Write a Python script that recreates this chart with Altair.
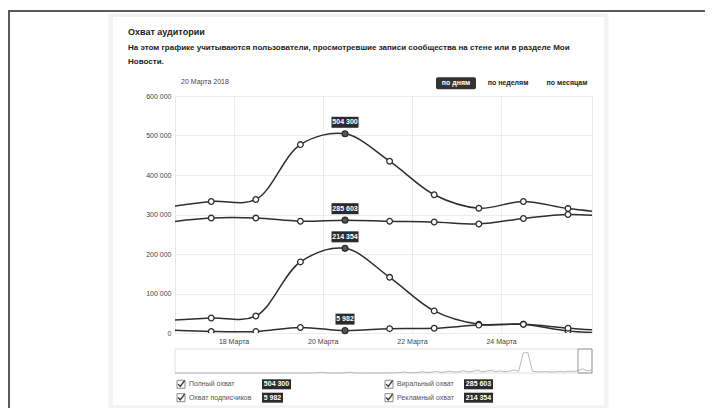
import altair as alt
import pandas as pd

# ---------------- data ----------------
dates = ["2018-03-16", "2018-03-17", "2018-03-18", "2018-03-19", "2018-03-20",
         "2018-03-21", "2018-03-22", "2018-03-23", "2018-03-24", "2018-03-25", "2018-03-26"]
total = [318000, 333000, 338000, 477000, 504300, 435000, 350000, 316000, 333000, 315000, 304000]
viral = [280000, 291000, 291000, 283000, 285603, 283000, 281000, 276000, 290000, 300000, 294000]
ads = [32000, 38000, 43000, 180000, 214354, 141000, 56000, 22000, 22000, 5000, 0]
subs = [8000, 4000, 4000, 14000, 5982, 11000, 12000, 20000, 22000, 12000, 5000]
series_names = ["Полный охват", "Виральный охват", "Рекламный охват", "Охват подписчиков"]
selected_date = "2018-03-20"
x_ticks = ["2018-03-18", "2018-03-20", "2018-03-22", "2018-03-24"]
y_ticks = [0, 100000, 200000, 300000, 400000, 500000, 600000]
x_range = ["2018-03-16T16:30:00Z", "2018-03-26T00:55:00Z"]
navigator = [0, 0, 0, 0, 0, 0, 0, 0, 0, 0,
             0, 0, 0, 0, 0, 0, 0, 0, 0, 0,
             0, 0, 0, 0, 0, 0, 0, 0, 0, 0,
             0, 1, 3, 1, 0, 0, 0, 1, 4, 1,
             0, 0, 0, 0, 0, 0, 1, 0, 1, 2,
             5, 2, 1, 3, 6, 2, 4, 8, 3, 5,
             9, 4, 6, 11, 5, 8, 13, 6, 9, 12,
             7, 10, 6, 9, 14, 8, 95, 98, 8, 6,
             5, 7, 4, 6, 8, 5, 9, 7, 12, 20,
             10, 14]
title_text = "Охват аудитории"
subtitle_lines = ["На этом графике учитываются пользователи, просмотревшие записи сообщества на стене или в разделе Мои",
                  "Новости."]
tooltip_date = "20 Марта 2018"
buttons = ["по дням", "по неделям", "по месяцам"]
legend_layout = [("Полный охват", 0, 0), ("Охват подписчиков", 0, 1),
                 ("Виральный охват", 1, 0), ("Рекламный охват", 1, 1)]

# ---------------- helpers ----------------
FONT = "Liberation Sans"
LINE = "#2e2e2e"
PX, PY = 175, 96          # plot origin on the page
W, H = 417, 237


def fmt(v):
    return f"{v:,}".replace(",", " ")


def ms(s):
    return int(pd.Timestamp(s).value // 10**6)


one = pd.DataFrame({"k": [0]})


def prect(x1, y1, x2, y2, **kw):
    return alt.Chart(one).mark_rect(**kw).encode(
        x=alt.value(x1 - PX), x2=alt.value(x2 - PX),
        y=alt.value(y1 - PY), y2=alt.value(y2 - PY))


def ptext(x, y, s, **kw):
    return alt.Chart(one).mark_text(text=s, baseline="middle", font=FONT, **kw).encode(
        x=alt.value(x - PX), y=alt.value(y - PY))


# ---------------- main series ----------------
rows = []
for name, vals in zip(series_names, [total, viral, ads, subs]):
    for d, v in zip(dates, vals):
        rows.append({"date": d + "T12:00:00Z", "value": v, "series": name,
                     "sel": d == selected_date, "lab": fmt(v), "n": len(fmt(v))})
df = pd.DataFrame(rows)

xscale = alt.Scale(type="utc", domain=[ms(x_range[0]), ms(x_range[1])])
yscale = alt.Scale(domain=[0, 600000], nice=False)

base = alt.Chart(df).encode(
    x=alt.X("date:T", scale=xscale, title=None,
            axis=alt.Axis(values=[ms(t + "T00:00:00Z") for t in x_ticks],
                          labelExpr="utcFormat(datum.value, '%-d') + ' Марта'",
                          labelFontSize=7, labelColor="#444", labelFont=FONT,
                          ticks=False, domain=False, labelPadding=4,
                          gridColor="#ececec", labelFlush=False)),
    y=alt.Y("value:Q", scale=yscale, title=None,
            axis=alt.Axis(values=y_ticks,
                          labelExpr="replace(format(datum.value, ','), ',', ' ')",
                          labelFontSize=7, labelColor="#444", labelFont=FONT,
                          ticks=False, domain=False, labelPadding=4,
                          gridColor="#ececec")),
    detail="series:N",
)

lines = base.mark_line(interpolate="catmull-rom", color=LINE, strokeWidth=1.5, clip=True)
pts = base.transform_filter("!datum.sel").mark_point(
    filled=True, fill="white", stroke=LINE, strokeWidth=1.3, size=32, opacity=1, clip=True)
hl = base.transform_filter("datum.sel").mark_point(
    filled=True, fill="#555555", stroke=LINE, strokeWidth=1.3, size=34, opacity=1)

label_layers = []
for n in sorted(df["n"].unique()):
    w = 4 * n - 1
    sub = base.transform_filter(f"datum.sel && datum.n == {n}")
    label_layers.append(sub.mark_rect(color="#2b2b2b", xOffset=-w / 2, x2Offset=w / 2,
                                      yOffset=-17, y2Offset=-6).encode(x2="date:T", y2="value:Q"))
label_text = base.transform_filter("datum.sel").mark_text(
    color="white", fontWeight="bold", fontSize=7, font=FONT, baseline="middle", dy=-11.5
).encode(text="lab:N")

main = alt.layer(lines, pts, hl, *label_layers, label_text)

# ---------------- navigator ----------------
nav_df = pd.DataFrame({"i": list(range(len(navigator))), "v": navigator})
nav = alt.Chart(nav_df).mark_line(color="#a8a8a8", strokeWidth=0.8).encode(
    x=alt.X("i:Q", scale=alt.Scale(domain=[0, len(navigator) - 1], range=[0, W]), axis=None),
    y=alt.Y("v:Q", scale=alt.Scale(domain=[0, 100], range=[373 - PY, 352 - PY]), axis=None),
)

# ---------------- legend ----------------
sel_idx = dates.index(selected_date)
sel_vals = dict(zip(series_names, [total[sel_idx], viral[sel_idx], ads[sel_idx], subs[sel_idx]]))
col_x = [181, 389]
row_y = [384.3, 397.7]
box_x = [262, 464]
leg = []
for name, c, r in legend_layout:
    lab = fmt(sel_vals[name])
    w = 4 * len(lab) + 1
    leg.append({"name": name, "lab": lab,
                "cx": col_x[c] - PX, "cy": row_y[r] - PY,
                "tx": col_x[c] + 8 - PX,
                "bx1": box_x[c] - PX, "bx2": box_x[c] + w - PX,
                "by1": row_y[r] - 5 - PY, "by2": row_y[r] + 5 - PY,
                "bxc": box_x[c] + w / 2 - PX})
leg_df = pd.DataFrame(leg)
lg = alt.Chart(leg_df)
none = dict(scale=None, axis=None)
leg_box = lg.mark_point(shape="square", size=64, filled=True, fill="white",
                        stroke="#8a8a8a", strokeWidth=1, opacity=1).encode(
    x=alt.X("cx:Q", **none), y=alt.Y("cy:Q", **none))
leg_check = lg.mark_point(shape="M-0.7,-0.05L-0.2,0.55L0.9,-0.9", size=64, filled=False,
                          stroke="#333333", strokeWidth=1.3, opacity=1).encode(
    x=alt.X("cx:Q", **none), y=alt.Y("cy:Q", **none))
leg_name = lg.mark_text(align="left", baseline="middle", fontSize=7, font=FONT, color="#555").encode(
    x=alt.X("tx:Q", **none), y=alt.Y("cy:Q", **none), text="name:N")
leg_val_box = lg.mark_rect(color="#2b2b2b").encode(
    x=alt.X("bx1:Q", **none), x2="bx2:Q", y=alt.Y("by1:Q", **none), y2="by2:Q")
leg_val = lg.mark_text(align="center", baseline="middle", fontSize=7, fontWeight="bold",
                       font=FONT, color="white").encode(
    x=alt.X("bxc:Q", **none), y=alt.Y("cy:Q", **none), text="lab:N")

# ---------------- decor ----------------
decor = [
    prect(8, 10, 705, 12, color="#5a5a5a"),
    prect(8, 10, 10, 408, color="#5a5a5a"),
    prect(110, 15, 607, 408, fillOpacity=0, stroke="#f3f3f3", strokeWidth=3),
    prect(112, 16, 605, 406, fillOpacity=0, stroke="#ebebeb", strokeWidth=1),
    prect(PX, 349, PX + W, 373, fillOpacity=0, stroke="#e0e0e0", strokeWidth=1),
    prect(578, 349, 592, 373, fillOpacity=0, stroke="#9a9a9a", strokeWidth=1),
    ptext(128, 31.7, title_text, align="left", fontSize=9, fontWeight="bold", color="#222"),
    ptext(128, 47.7, subtitle_lines[0], align="left", fontSize=8, fontWeight="bold", color="#222"),
    ptext(128, 61.7, subtitle_lines[1], align="left", fontSize=8, fontWeight="bold", color="#222"),
    ptext(181, 82.3, tooltip_date, align="left", fontSize=7, color="#444"),
    prect(436, 77.3, 476, 89.3, color="#333333", cornerRadius=2),
    ptext(456, 83.3, buttons[0], align="center", fontSize=7, fontWeight="bold", color="white"),
    ptext(508, 83.3, buttons[1], align="center", fontSize=7, fontWeight="bold", color="#222"),
    ptext(567, 83.3, buttons[2], align="center", fontSize=7, fontWeight="bold", color="#222"),
]

chart = alt.layer(
    *decor, main, nav, leg_box, leg_check, leg_name, leg_val_box, leg_val
).resolve_scale(
    x="independent", y="independent"
).properties(
    width=W, height=H,
    padding={"left": PX - 8, "top": PY - 8, "right": 697 - (PX - 8) - W, "bottom": 400 - (PY - 8) - H},
    autosize=alt.AutoSizeParams(type="none"),
).configure(font=FONT).configure_view(stroke="#e6e6e6")

chart.save("out.html", embed_options={"renderer": "svg", "actions": False})
